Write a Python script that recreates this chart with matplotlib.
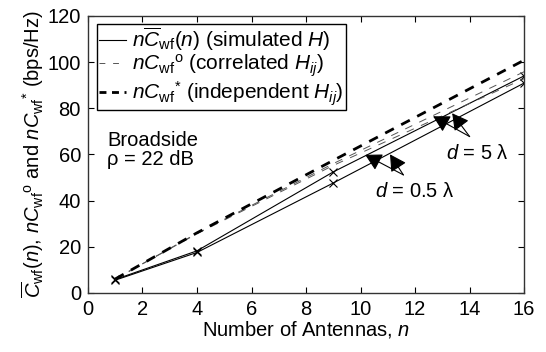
import matplotlib
matplotlib.use("Agg")
import matplotlib.pyplot as plt
from matplotlib.lines import Line2D

plt.rcParams["font.family"] = ["Liberation Sans", "DejaVu Sans"]
plt.rcParams["mathtext.fontset"] = "custom"
plt.rcParams["mathtext.rm"] = "Liberation Sans"
plt.rcParams["mathtext.it"] = "Liberation Sans:italic"
plt.rcParams["mathtext.bf"] = "Liberation Sans:bold"

n_ant = [1, 4, 9, 16]

# simulated H (solid)
sim_d5 = [5.8, 18.2, 52.4, 94.0]
sim_d05 = [5.5, 17.5, 47.6, 90.9]
# correlated H_ij (light dashed)
corr_d5 = [6.0, 25.8, 56.0, 95.8]
corr_d05 = [6.0, 25.6, 55.2, 92.8]
# independent H_ij (thick dashed)
indep = [6.0, 26.0, 57.4, 100.8]

FS = 14.5

fig = plt.figure(figsize=(5.46, 3.52), dpi=100)
ax = fig.add_axes([0.161, 0.168, 0.799, 0.787])

ax.plot(n_ant, sim_d5, color="black", lw=0.8, marker="x", ms=6, mew=0.8)
ax.plot(n_ant, sim_d05, color="black", lw=0.8, marker="x", ms=6, mew=0.8)
ax.plot(n_ant, corr_d5, color="#555555", lw=0.7, dashes=(8, 8))
ax.plot(n_ant, corr_d05, color="#555555", lw=0.7, dashes=(8, 8))
ax.plot(n_ant, indep, color="black", lw=2.0, dashes=(3.5, 3))

h1 = Line2D([], [], color="black", lw=0.8)
h2 = Line2D([], [], color="#555555", lw=0.7, dashes=(6, 8))
h3 = Line2D([], [], color="black", lw=2.0, dashes=(2.5, 2))
leg = ax.legend(
    [h1, h2, h3],
    [r"$n\overline{C}_{\mathrm{wf}}(n)$ (simulated $H$)",
     r"$nC_{\mathrm{wf}}{}^{\mathrm{o}}$ (correlated $H_{ij}$)",
     r"$nC_{\mathrm{wf}}{}^{*}$ (independent $H_{ij}$)"],
    loc="upper left", bbox_to_anchor=(0.02, 0.972), fontsize=15,
    frameon=True, fancybox=False, framealpha=1, edgecolor="black",
    handlelength=1.3, handletextpad=0.3, borderpad=0.1, labelspacing=0.0,
    borderaxespad=0.0,
)
leg.get_frame().set_linewidth(1.0)

ax.text(0.7, 70, "Broadside\nρ = 22 dB", fontsize=FS, ha="left", va="top",
        linespacing=1.0)

arrow = dict(arrowstyle="-|>,head_length=1.0,head_width=0.55", color="black",
             lw=0.8, shrinkA=0, shrinkB=0)
ax.annotate("", xy=(12.66, 76.5), xytext=(14.0, 67.7), arrowprops=arrow)
ax.annotate("", xy=(13.36, 77.8), xytext=(14.0, 67.7), arrowprops=arrow)
ax.text(14.3, 60.2, r"$d$ = 5 λ", fontsize=FS, ha="center", va="center")

ax.annotate("", xy=(10.17, 59.8), xytext=(11.57, 51.1), arrowprops=arrow)
ax.annotate("", xy=(11.08, 60.0), xytext=(11.57, 51.1), arrowprops=arrow)
ax.text(12.0, 43.7, r"$d$ = 0.5 λ", fontsize=FS, ha="center", va="center")

ax.set_xlim(0, 16)
ax.set_ylim(0, 120)
ax.set_xticks(range(0, 17, 2))
ax.set_yticks(range(0, 121, 20))
ax.tick_params(direction="in", top=True, right=True, labelsize=FS, length=4,
               width=0.8, pad=5)
for s in ax.spines.values():
    s.set_linewidth(1.0)
    s.set_color("#333333")

ax.set_xlabel(r"Number of Antennas, $n$", fontsize=FS, labelpad=0)
ax.set_ylabel(r"$\overline{C}_{\mathrm{wf}}(n)$, $nC_{\mathrm{wf}}{}^{\mathrm{o}}$ and $nC_{\mathrm{wf}}{}^{*}$ (bps/Hz)",
              fontsize=FS, labelpad=1)

fig.savefig("out.png", dpi=100)
